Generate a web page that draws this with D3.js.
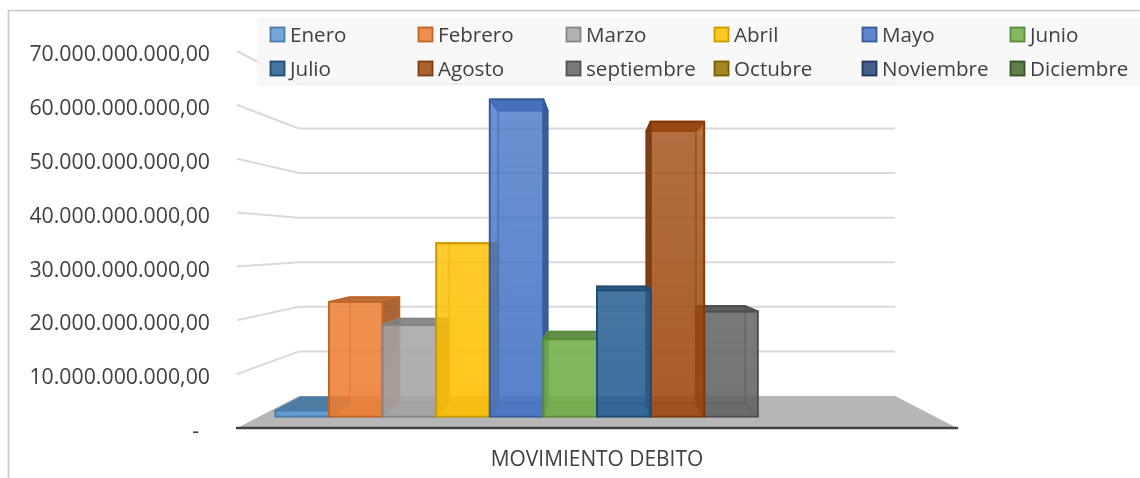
<!DOCTYPE html>
<html><head><meta charset="utf-8">
<script src="https://cdn.jsdelivr.net/npm/d3@7/dist/d3.min.js"></script>
<style>html,body{margin:0;background:#fff}svg{display:block;filter:blur(.4px)}text{font-family:"Open Sans",sans-serif;fill:#404040}</style>
</head><body><div id="c"></div>
<script>
const months=["Enero","Febrero","Marzo","Abril","Mayo","Junio","Julio","Agosto","septiembre","Octubre","Noviembre","Diciembre"];
const debito=[1.2e9,22.7e9,18.1e9,34.3e9,62.7e9,15.3e9,25e9,58.3e9,20.8e9,null,null,null];
const colors=["#5b9bd5","#ed7d31","#a5a5a5","#ffc000","#4472c4","#70ad47","#255e91","#9e480e","#636363","#997300","#264478","#43682b"];
const tickValues=[0,10e9,20e9,30e9,40e9,50e9,60e9,70e9];
const tickLabels=["-","10.000.000.000,00","20.000.000.000,00","30.000.000.000,00","40.000.000.000,00","50.000.000.000,00","60.000.000.000,00","70.000.000.000,00"];
const axisTitle="MOVIMIENTO DEBITO";

const W=1140,H=478,cx=597,horizon=242;
const svg=d3.select("#c").append("svg").attr("width",W).attr("height",H);
const defs=svg.append("defs");
const y=d3.scaleLinear().domain([0,70e9]).range([428,51]);
const x=d3.scaleBand().domain(months).range([254.5,939.5]);
const depth={front:1,barFront:.939,barBack:.866,wall:.828};
const P=(fx,v,s)=>[cx+(fx-cx)*s,horizon+(y(v)-horizon)*s];
const poly=pts=>pts.map(p=>p.join(",")).join(" ");
const floorL=237,floorR=957;

// frame
svg.append("path").attr("d",`M8.5,478V10.5H${W}`).attr("fill","none").attr("stroke","#c9c9c9").attr("stroke-width",1.6);

// floor
svg.append("polygon").attr("fill","#b6b6b6")
 .attr("points",poly([P(floorL,0,1),P(floorL,0,depth.wall),P(floorR,0,depth.wall),P(floorR,0,1)]));

// gridlines
svg.append("g").selectAll("polyline").data(tickValues.slice(1)).join("polyline")
 .attr("fill","none").attr("stroke","#d9d9d9").attr("stroke-width",2)
 .attr("points",d=>poly([P(floorL,d,1),P(floorL,d,depth.wall),P(floorR,d,depth.wall)]));

// tick labels
svg.append("g").attr("text-anchor","end").selectAll("text").data(tickValues).join("text")
 .attr("x",(d,i)=>i?210:199).attr("y",d=>y(d)+2.5).attr("dy",".36em").attr("font-size",21.3).text((d,i)=>tickLabels[i]);

// bars, outermost first so the ones near the centre overlap them
const rows=months.map((m,i)=>({m,v:debito[i],c:colors[i]})).filter(d=>d.v!=null);
const mid=d=>Math.abs(x(d.m)+x.bandwidth()/2-cx);
rows.sort((a,b)=>mid(b)-mid(a));
rows.forEach((d,k)=>{
  const base=d3.color(d.c);
  const id="g"+k;
  const g=defs.append("linearGradient").attr("id",id).attr("gradientUnits","userSpaceOnUse").attr("x1",0).attr("x2",0).attr("y1",y(65e9)).attr("y2",y(0));
  g.append("stop").attr("offset",0).attr("stop-color",d.c).attr("stop-opacity",.74);
  g.append("stop").attr("offset",.7).attr("stop-color",d.c).attr("stop-opacity",.84);
  g.append("stop").attr("offset",1).attr("stop-color",d.c).attr("stop-opacity",.88);
  const l=x(d.m),r=l+x.bandwidth();
  const c=P;
  const F=depth.barFront,B=depth.barBack;
  const dark=base.darker(.8).formatHex(), darker=base.darker(1.05).formatHex(), edge=base.darker(.6).formatHex();
  const box=svg.append("g").attr("stroke",edge).attr("stroke-width",1.9).attr("stroke-linejoin","round");
  const face=(pts,fill,op)=>box.append("polygon").attr("points",poly(pts)).attr("fill",fill).attr("fill-opacity",op);
  // back, floor
  face([c(l,0,B),c(r,0,B),c(r,d.v,B),c(l,d.v,B)],d.c,.12).attr("stroke-opacity",.4);
  face([c(l,0,F),c(r,0,F),c(r,0,B),c(l,0,B)],dark,.2).attr("stroke-opacity",.4);
  // sides
  const cen=(l+r)/2;
  const side=cen<cx?r:l, hidden=cen<cx?l:r;
  face([c(hidden,0,F),c(hidden,0,B),c(hidden,d.v,B),c(hidden,d.v,F)],d.c,.08).attr("stroke-opacity",.4);
  face([c(side,0,F),c(side,0,B),c(side,d.v,B),c(side,d.v,F)],darker,.9);
  // top
  face([c(l,d.v,F),c(r,d.v,F),c(r,d.v,B),c(l,d.v,B)],dark,.88);
  // front
  face([c(l,0,F),c(r,0,F),c(r,d.v,F),c(l,d.v,F)],`url(#${id})`,1);
});

// axis baseline
svg.append("line").attr("x1",floorL).attr("x2",floorR).attr("y1",y(0)).attr("y2",y(0)).attr("stroke","#404040").attr("stroke-width",2.6).attr("stroke-linecap","round");
svg.append("text").attr("x",597).attr("y",458).attr("dy",".36em").attr("text-anchor","middle").attr("font-size",20.9).text(axisTitle);

// legend
svg.append("rect").attr("x",257).attr("y",18).attr("width",W-257).attr("height",68).attr("fill","#f6f6f6").attr("fill-opacity",.8);
const lg=svg.append("g").selectAll("g").data(months).join("g")
 .attr("transform",(d,i)=>`translate(${270.5+148*(i%6)},${i<6?27.5:61.5})`);
lg.append("rect").attr("width",14).attr("height",14)
 .attr("fill",(d,i)=>colors[i]).attr("fill-opacity",.85)
 .attr("stroke",(d,i)=>d3.color(colors[i]).darker(.6).formatHex()).attr("stroke-width",1.8);
lg.append("text").attr("x",19.5).attr("y",7).attr("dy",".36em").attr("font-size",20.6).text(d=>d);
</script></body></html>
